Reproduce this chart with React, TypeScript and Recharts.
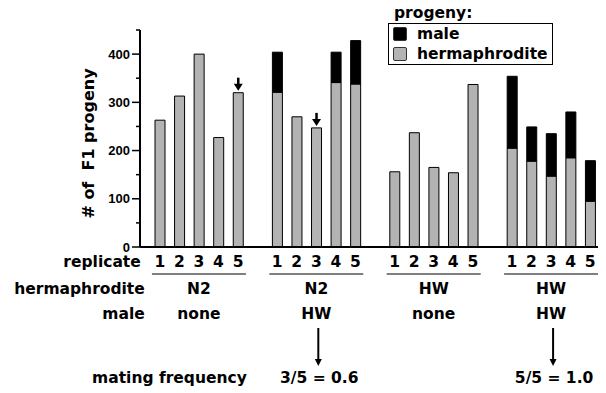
import React from 'react';
import { BarChart, Bar, XAxis, YAxis, Legend, LabelList } from 'recharts';

// ---- data ----
const replicates = ['1', '2', '3', '4', '5'];
const hermaphroditeStrain = ['N2', 'N2', 'HW', 'HW'];
const maleStrain = ['none', 'HW', 'none', 'HW'];
const matingFrequency = ['', '3/5 = 0.6', '', '5/5 = 1.0'];
const hermProgenyN2None = [263, 313, 400, 227, 320];
const hermProgenyN2xHW = [321, 270, 247, 341, 338];
const hermProgenyHWNone = [156, 237, 165, 154, 337];
const hermProgenyHWxHW = [205, 178, 147, 185, 95];
const maleProgenyN2None = [null, null, null, null, null];
const maleProgenyN2xHW = [83, null, null, 63, 90];
const maleProgenyHWNone = [null, null, null, null, null];
const maleProgenyHWxHW = [149, 71, 88, 95, 84];
const markedReplicate = ['5', '3', '', ''];
const yTicks = [0, 50, 100, 150, 200, 250, 300, 350, 400, 450];

const hermGroups = [hermProgenyN2None, hermProgenyN2xHW, hermProgenyHWNone, hermProgenyHWxHW];
const maleGroups = [maleProgenyN2None, maleProgenyN2xHW, maleProgenyHWNone, maleProgenyHWxHW];

type Row = {
  id: string;
  rep: string;
  group: number;
  herm: number | null;
  male: number | null;
  marker: string;
};

const chartData: Row[] = [];
hermGroups.forEach((g, gi) => {
  replicates.forEach((r, ri) => {
    chartData.push({
      id: `g${gi}r${r}`,
      rep: r,
      group: gi,
      herm: g[ri],
      male: maleGroups[gi][ri],
      marker: markedReplicate[gi] === r ? 'down' : 'none',
    });
  });
  if (gi < hermGroups.length - 1) {
    chartData.push({ id: `gap${gi}`, rep: '', group: gi, herm: null, male: null, marker: 'none' });
  }
});

const FONT = '"DejaVu Sans", sans-serif';
const TICK_FONT = '"Liberation Sans", Arial, sans-serif';
const TXT = { fontFamily: FONT, fontWeight: 700, fontSize: 15.5, fill: '#000' } as const;

const renderXTick = (props: any) => {
  const { x, y, payload } = props;
  const d = chartData.find((c) => c.id === payload.value);
  if (!d) return null;
  const els: React.ReactNode[] = [];
  if (d.rep) {
    els.push(
      <text key="rep" x={x} y={y + 15} textAnchor="middle" dominantBaseline="central" {...TXT}>
        {d.rep}
      </text>
    );
  }
  if (d.rep === '1' && d.group === 0) {
    els.push(
      <text key="l1" x={x - 19} y={y + 15} textAnchor="end" dominantBaseline="central" {...TXT}>replicate</text>,
      <text key="l2" x={x - 15} y={y + 42} textAnchor="end" dominantBaseline="central" {...TXT}>hermaphrodite</text>,
      <text key="l3" x={x - 15} y={y + 67} textAnchor="end" dominantBaseline="central" {...TXT}>male</text>,
      <text key="l4" x={x + 87} y={y + 131} textAnchor="end" dominantBaseline="central" {...TXT}>mating frequency</text>
    );
  }
  if (d.rep === '3') {
    const g = d.group;
    els.push(
      <line key="ul" x1={x - 47} x2={x + 47} y1={y + 27} y2={y + 27} stroke="#000" strokeWidth={1.2} />,
      <text key="hs" x={x} y={y + 42} textAnchor="middle" dominantBaseline="central" {...TXT}>
        {hermaphroditeStrain[g]}
      </text>,
      <text key="ms" x={x} y={y + 67} textAnchor="middle" dominantBaseline="central" {...TXT}>
        {maleStrain[g]}
      </text>
    );
    if (matingFrequency[g]) {
      els.push(
        <line key="ar" x1={x + 2} x2={x + 2} y1={y + 81} y2={y + 113} stroke="#000" strokeWidth={2} />,
        <path key="ah" d={`M${x - 1.5},${y + 112} L${x + 5.5},${y + 112} L${x + 2},${y + 119} Z`} fill="#000" />,
        <text key="mf" x={x + 3} y={y + 131} textAnchor="middle" dominantBaseline="central" {...TXT}>
          {matingFrequency[g]}
        </text>
      );
    }
  }
  return <g>{els}</g>;
};

const renderYTick = (props: any) => {
  const { x, y, payload } = props;
  const major = payload.value % 100 === 0;
  return (
    <g>
      <line x1={x - (major ? 8 : 4)} x2={x} y1={y} y2={y} stroke="#000" strokeWidth={1.5} />
      {major && (
        <text
          x={x - 10}
          y={y}
          textAnchor="end"
          dominantBaseline="central"
          fontFamily={TICK_FONT}
          fontWeight={700}
          fontSize={13}
          fill="#000"
        >
          {payload.value}
        </text>
      )}
    </g>
  );
};

const renderYLabel = (props: any) => {
  const vb = props.viewBox || {};
  const cx = vb.x + 8;
  const cy = vb.y + vb.height / 2 + 5;
  return (
    <text
      x={cx}
      y={cy}
      transform={`rotate(-90, ${cx}, ${cy})`}
      textAnchor="middle"
      dominantBaseline="central"
      style={{ whiteSpace: 'pre' }}
      fontFamily={FONT}
      fontWeight={700}
      fontSize={16}
      fill="#000"
    >
      {'# of  F1 progeny'}
    </text>
  );
};

const renderMarker = (props: any) => {
  const { x, y, width, value } = props;
  if (value !== 'down') return null;
  const cx = Number(x) + Number(width) / 2;
  const tip = Number(y) - 2;
  return (
    <g>
      <line x1={cx} x2={cx} y1={tip - 13} y2={tip - 6} stroke="#000" strokeWidth={2.5} />
      <path d={`M${cx - 4.5},${tip - 7} L${cx + 4.5},${tip - 7} L${cx},${tip} Z`} fill="#000" />
    </g>
  );
};

const renderLegend = (props: any) => {
  const items = [...(props.payload || [])].reverse();
  return (
    <div style={{ position: 'relative', width: 166, height: 58, fontFamily: FONT, fontWeight: 700, fontSize: 15.5, color: '#000' }}>
      <div style={{ position: 'absolute', left: 6, top: -3, lineHeight: '16px', whiteSpace: 'nowrap' }}>progeny:</div>
      <div
        style={{
          position: 'absolute',
          left: 0,
          top: 15,
          width: 165,
          height: 42,
          border: '1px solid #000',
          boxSizing: 'border-box',
        }}
      >
        {items.map((it: any) => (
          <div key={it.value} style={{ display: 'flex', alignItems: 'center', height: 20, whiteSpace: 'nowrap' }}>
            <span
              style={{
                display: 'inline-block',
                width: 12,
                height: 12,
                marginLeft: 4,
                marginRight: 10,
                background: it.color,
                border: '1px solid #333',
                borderRadius: 2,
              }}
            />
            <span style={{ lineHeight: '20px' }}>{it.value}</span>
          </div>
        ))}
      </div>
    </div>
  );
};

export default function App() {
  return (
    <BarChart
      width={598}
      height={385}
      data={chartData}
      margin={{ top: 22, right: 6, left: 72, bottom: 116 }}
      barSize={10}
    >
      <XAxis
        dataKey="id"
        interval={0}
        tickLine={false}
        tickSize={0}
        tickMargin={0}
        axisLine={{ stroke: '#000', strokeWidth: 2 }}
        tick={renderXTick}
        height={30}
        padding={{ left: 10, right: 0 }}
      />
      <YAxis
        domain={[0, 450]}
        ticks={yTicks}
        interval={0}
        tickLine={false}
        tickSize={0}
        tickMargin={0}
        axisLine={{ stroke: '#000', strokeWidth: 2 }}
        tick={renderYTick}
        width={60}
        label={renderYLabel}
      />
      <Legend
        layout="horizontal"
        verticalAlign="middle"
        align="center"
        content={renderLegend}
        wrapperStyle={{ top: 0, left: 380, width: 166, height: 58 }}
      />
      <Bar
        dataKey="herm"
        name="hermaphrodite"
        stackId="a"
        fill="#b3b3b3"
        stroke="#000"
        strokeWidth={1}
        isAnimationActive={false}
      >
        <LabelList dataKey="marker" content={renderMarker} />
      </Bar>
      <Bar
        dataKey="male"
        name="male"
        stackId="a"
        fill="#000000"
        stroke="#000"
        strokeWidth={1}
        isAnimationActive={false}
      />
    </BarChart>
  );
}
